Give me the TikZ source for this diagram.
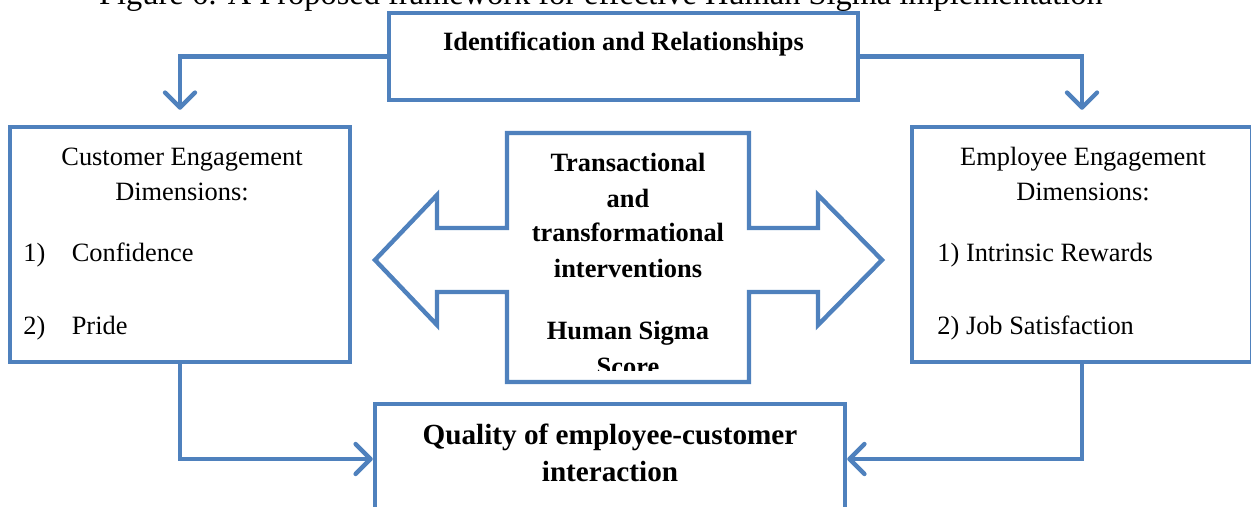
\documentclass[tikz,border=0pt]{standalone}
\usepackage{fontspec}
\setmainfont{Liberation Serif}
\usetikzlibrary{arrows.meta}

\definecolor{frameblue}{RGB}{79,129,189}

\begin{document}
\begin{tikzpicture}[x=0.5pt,y=-0.5pt,
  box/.style={draw=frameblue, line width=2.2pt, fill=white, inner sep=0pt},
  conn/.style={draw=frameblue, line width=2.2pt, line join=miter,
    -{Straight Barb[length=7.5pt,width=15pt,round]}},
  txt/.style={font=\fontsize{13.2}{17.5}\selectfont, inner sep=0pt, anchor=base},
  btxt/.style={font=\bfseries\fontsize{13.2}{17.5}\selectfont, inner sep=0pt, anchor=base}]

\useasboundingbox (0,0) rectangle (1251,507);
\clip (0,0) rectangle (1251,507);

% Caption (cut by the top edge)
\node[font=\fontsize{16.2}{19}\selectfont, inner sep=0pt, anchor=base] (caption) at (601,5)
  {Figure 6: A Proposed framework for effective Human Sigma implementation};

% Boxes
\node[box, minimum width=234.5pt, minimum height=43.5pt] (idrel) at (623.5,56.5) {};
\node[box, minimum width=170pt, minimum height=117.5pt] (cust) at (180,244.5) {};
\node[box, minimum width=170pt, minimum height=117.5pt] (empl) at (1082,244.5) {};
\node[box, minimum width=235pt, minimum height=55pt] (qual) at (610,459) {};

% Connectors
\draw[conn, shorten >=7.5pt] (idrel.west) -| (cust.north);
\draw[conn, shorten >=7.5pt] (idrel.east) -| (empl.north);
\draw[conn] (cust.south) |- (qual.west);
\draw[conn] (empl.south) |- (qual.east);

% Double arrow with box in the middle
\draw[box, line join=miter] (507,133) -- (749,133) -- (749,228) -- (818,228) -- (818,195)
  -- (882,260) -- (818,325) -- (818,292) -- (749,292) -- (749,382) -- (507,382)
  -- (507,292) -- (437,292) -- (437,325) -- (375,260) -- (437,195) -- (437,228)
  -- (507,228) -- cycle;
\begin{scope}
  \clip (507,133) rectangle (749,370);
  \node[btxt, align=center] (interv) at (628,375)
    {Transactional\\ and\\ transformational\\ interventions\\[14pt] Human Sigma\\ Score};
\end{scope}

% Texts
\node[btxt] (idtxt) at (623.5,51) {Identification and Relationships};

\node[txt, align=center] (custhead) at (182,201) {Customer Engagement\\ Dimensions:};
\node[txt, anchor=base west] (cust1) at (23,262) {1)\quad Confidence};
\node[txt, anchor=base west] (cust2) at (23,335) {2)\quad Pride};

\node[txt, align=center] (emplhead) at (1083,201) {Employee Engagement\\ Dimensions:};
\node[txt, anchor=base west] (empl1) at (937,262) {1) Intrinsic Rewards};
\node[txt, anchor=base west] (empl2) at (937,335) {2) Job Satisfaction};

\node[btxt, align=center, font=\bfseries\fontsize{14.6}{18.5}\selectfont] (qualtxt) at (610,481)
  {Quality of employee-customer\\ interaction};

\end{tikzpicture}
\end{document}
